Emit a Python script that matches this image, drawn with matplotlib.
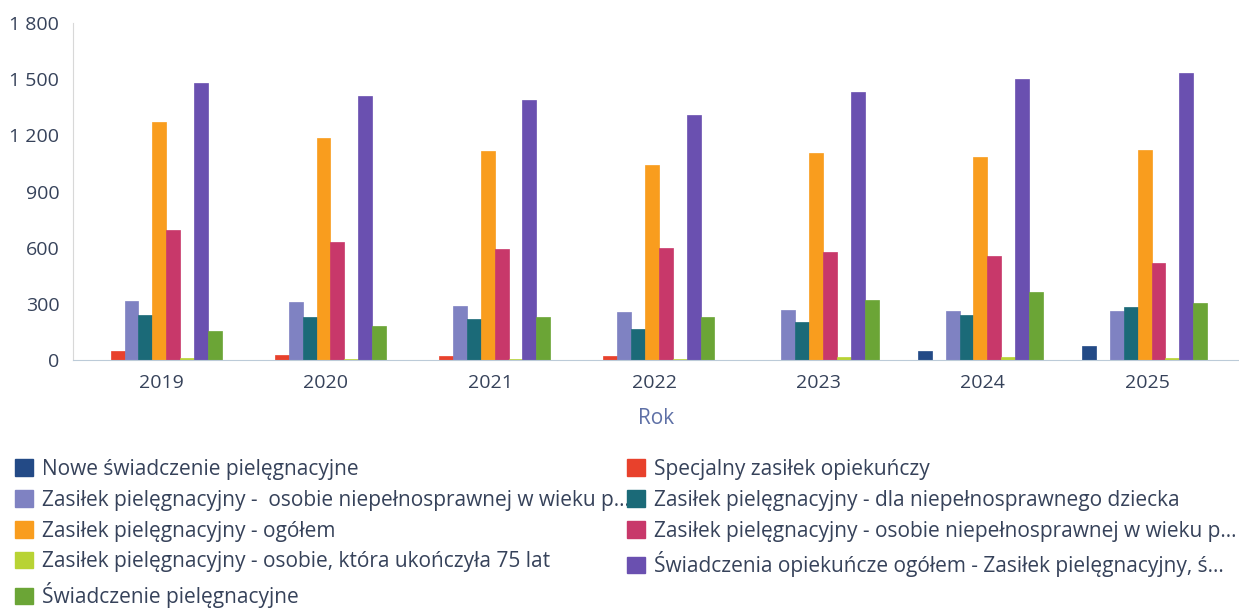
import matplotlib
matplotlib.use("Agg")
import matplotlib.pyplot as plt
import numpy as np
from matplotlib.patches import Patch
from matplotlib.ticker import FuncFormatter

plt.rcParams['font.family'] = ['Open Sans', 'DejaVu Sans']

years = ["2019", "2020", "2021", "2022", "2023", "2024", "2025"]

series_names = [
    "Nowe świadczenie pielęgnacyjne",
    "Specjalny zasiłek opiekuńczy",
    "Zasiłek pielęgnacyjny -  osobie niepełnosprawnej w wieku p...",
    "Zasiłek pielęgnacyjny - dla niepełnosprawnego dziecka",
    "Zasiłek pielęgnacyjny - ogółem",
    "Zasiłek pielęgnacyjny - osobie niepełnosprawnej w wieku p...",
    "Zasiłek pielęgnacyjny - osobie, która ukończyła 75 lat",
    "Świadczenia opiekuńcze ogółem - Zasiłek pielęgnacyjny, ś...",
    "Świadczenie pielęgnacyjne",
]

nowe_swiadczenie = [0, 0, 0, 0, 0, 50, 75]
specjalny_zasilek = [48, 25, 23, 23, 0, 0, 0]
zasilek_wiek_p1 = [315, 311, 287, 258, 267, 262, 264]
zasilek_dziecko = [240, 230, 217, 166, 204, 240, 285]
zasilek_ogolem = [1269, 1185, 1114, 1041, 1104, 1085, 1121]
zasilek_wiek_p2 = [694, 632, 591, 600, 578, 555, 516]
zasilek_75 = [8, 5, 5, 3, 16, 18, 9]
swiadczenia_ogolem = [1482, 1410, 1390, 1308, 1432, 1503, 1531]
swiadczenie_piel = [155, 179, 228, 228, 320, 361, 306]

values = [nowe_swiadczenie, specjalny_zasilek, zasilek_wiek_p1, zasilek_dziecko,
          zasilek_ogolem, zasilek_wiek_p2, zasilek_75, swiadczenia_ogolem,
          swiadczenie_piel]

colors = ["#234a86", "#e8412c", "#7f82c2", "#1b6a78", "#f99d1e",
          "#c8386a", "#b8d334", "#6a50b0", "#6ba536"]

text_color = "#36425a"

fig = plt.figure(figsize=(12.39, 6.09), dpi=100)
ax = fig.add_axes([0.059, 0.409, 0.941, 0.553])

n = len(values)
bw = 0.0846
x = np.arange(len(years))
for i, (vals, c) in enumerate(zip(values, colors)):
    ax.bar(x + (i - (n - 1) / 2) * bw - 0.015, vals, width=bw, color=c,
           edgecolor=c, linewidth=0.5)

ax.set_xlim(-0.54, 6.56)
ax.set_ylim(0, 1800)
ax.set_yticks(np.arange(0, 1801, 300))
ax.yaxis.set_major_formatter(FuncFormatter(lambda v, p: f"{int(v):,}".replace(",", " ")))
ax.set_xticks(x)
ax.set_xticklabels(years)
ax.tick_params(axis='both', length=0, labelsize=14, labelcolor=text_color)
ax.tick_params(axis='y', pad=10)
ax.tick_params(axis='x', pad=10)
ax.set_xlabel("Rok", fontsize=15, color="#5e70a6", labelpad=12)

for s in ["top", "right"]:
    ax.spines[s].set_visible(False)
ax.spines["left"].set_color("#d8d8d8")
ax.spines["bottom"].set_color("#bccbd8")

col1 = [0, 2, 4, 6, 8]
col2 = [1, 3, 5, 7]
common = dict(frameon=False, fontsize=15, handlelength=0.85, handleheight=0.85,
              handletextpad=0.45, labelspacing=0.47, borderpad=0, borderaxespad=0,
              labelcolor=text_color)
h1 = [Patch(facecolor=colors[i], edgecolor=colors[i]) for i in col1]
leg1 = fig.legend(h1, [series_names[i] for i in col1], loc="upper left",
                  bbox_to_anchor=(15 / 1239, 1 - 459 / 609), **common)
h2 = [Patch(facecolor=colors[i], edgecolor=colors[i]) for i in col2]
leg2 = fig.legend(h2, [series_names[i] for i in col2], loc="upper left",
                  bbox_to_anchor=(627 / 1239, 1 - 459 / 609), **common)

fig.savefig("out.png", dpi=100, facecolor="white")
